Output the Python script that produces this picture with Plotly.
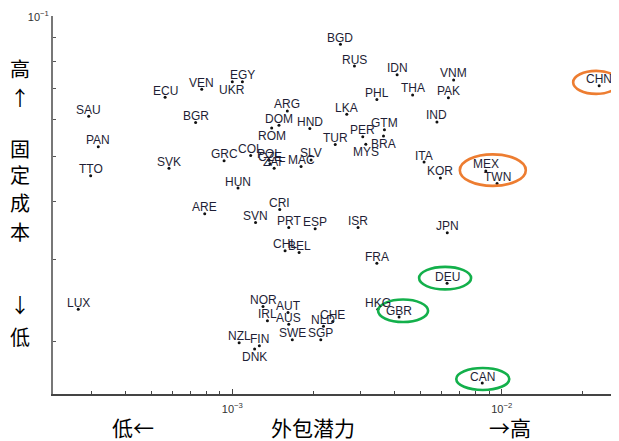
import math
import plotly.graph_objects as go

# ---------------- data ----------------
countries = ["BGD", "RUS", "IDN", "VNM", "EGY", "UKR", "VEN", "ECU", "CHN", "THA",
             "PAK", "PHL", "SAU", "ARG", "LKA", "IND", "BGR", "DOM", "HND", "ROM",
             "GTM", "PER", "BRA", "PAN", "TUR", "MYS", "COL", "GRC", "POL", "CZE",
             "ZAF", "MAC", "SLV", "SVK", "TTO", "ITA", "KOR", "MEX", "TWN", "HUN",
             "CRI", "ARE", "SVN", "PRT", "ESP", "ISR", "JPN", "CHL", "BEL", "FRA",
             "DEU", "NOR", "LUX", "HKG", "AUT", "GBR", "IRL", "CHE", "AUS", "NLD",
             "SWE", "SGP", "NZL", "FIN", "DNK", "CAN"]

# outsourcing potential (x, log scale)
outsourcing = [2.52e-3, 2.84e-3, 4.09e-3, 6.63e-3, 1.09e-3, 1.00e-3, 7.70e-4, 5.63e-4, 2.30e-2, 4.67e-3,
               6.34e-3, 3.44e-3, 2.93e-4, 1.60e-3, 2.66e-3, 5.75e-3, 7.31e-4, 1.49e-3, 1.94e-3, 1.40e-3,
               3.67e-3, 3.05e-3, 3.64e-3, 3.18e-4, 2.41e-3, 3.13e-3, 1.17e-3, 9.32e-4, 1.37e-3, 1.38e-3,
               1.43e-3, 1.80e-3, 1.96e-3, 5.82e-4, 2.98e-4, 5.15e-3, 5.92e-3, 8.73e-3, 9.61e-3, 1.05e-3,
               1.50e-3, 7.90e-4, 1.22e-3, 1.62e-3, 2.03e-3, 2.93e-3, 6.28e-3, 1.57e-3, 1.77e-3, 3.44e-3,
               6.27e-3, 1.30e-3, 2.68e-4, 3.47e-3, 1.61e-3, 4.16e-3, 1.35e-3, 2.36e-3, 1.62e-3, 2.18e-3,
               1.67e-3, 2.13e-3, 1.06e-3, 1.26e-3, 1.21e-3, 8.47e-3]

# fixed cost (y, log scale)
fixed_cost = [0.0872, 0.0783, 0.0750, 0.0731, 0.0725, 0.0725, 0.0698, 0.0671, 0.0710, 0.0679,
              0.0669, 0.0664, 0.0611, 0.0627, 0.0617, 0.0594, 0.0592, 0.0584, 0.0575, 0.0576,
              0.0571, 0.0552, 0.0554, 0.0525, 0.0531, 0.0532, 0.0503, 0.0490, 0.0491, 0.0483,
              0.0472, 0.0476, 0.0492, 0.0472, 0.0455, 0.0487, 0.0450, 0.0466, 0.0438, 0.0428,
              0.0385, 0.0377, 0.0361, 0.0352, 0.0350, 0.0352, 0.0343, 0.0314, 0.0311, 0.0295,
              0.0267, 0.0238, 0.0235, 0.0235, 0.0231, 0.0226, 0.0222, 0.0221, 0.0218, 0.0216,
              0.0202, 0.0202, 0.0199, 0.0196, 0.0193, 0.0163]

# labels that sit below their dot instead of above
labels_below = ["UKR", "ROM", "BRA", "MYS", "DNK"]

# highlighted countries
highlight_orange = ["CHN", "MEX"]
highlight_green = ["DEU", "GBR", "CAN"]

x_major = [1e-3, 1e-2]
x_major_text = ["10<sup>−3</sup>", "10<sup>−2</sup>"]
x_minor = [3e-4, 4e-4, 5e-4, 6e-4, 7e-4, 8e-4, 9e-4,
           2e-3, 3e-3, 4e-3, 5e-3, 6e-3, 7e-3, 8e-3, 9e-3, 2e-2]
y_major = [1e-1]
y_major_text = ["10<sup>−1</sup>"]
y_minor = [2e-2, 3e-2, 4e-2, 5e-2, 6e-2, 7e-2, 8e-2, 9e-2]

# ---------------- layout geometry ----------------
# the page adds an 8px body margin, so the figure is 8px smaller on each side
W, H = 611, 433
ML, MR, MT, MB = 45, 0, 8, 47
X_RANGE = [-3.6656, -1.5646]
Y_RANGE = [-1.8114, -0.9985]
PX_PER_DEC_X = (W - ML - MR) / (X_RANGE[1] - X_RANGE[0])
PX_PER_DEC_Y = (H - MT - MB) / (Y_RANGE[1] - Y_RANGE[0])

LABEL_FONT = dict(family="Liberation Sans, Arial, sans-serif", size=12, color="#1e1e35")

fig = go.Figure()
fig.add_trace(go.Scatter(
    x=outsourcing, y=fixed_cost, mode="markers",
    marker=dict(size=3, color="#111111"),
    hoverinfo="skip", showlegend=False,
))

annotations = []
for c, xv, yv in zip(countries, outsourcing, fixed_cost):
    below = c in labels_below
    annotations.append(dict(
        text=c, x=math.log10(xv), y=math.log10(yv), xref="x", yref="y",
        showarrow=False, xanchor="center",
        yanchor="top" if below else "bottom",
        yshift=1 if below else -2.5,
        font=LABEL_FONT,
    ))

# highlight ellipses: pixel offsets around the highlighted point
ellipse_specs = {
    "CHN": (-26, 20, -8, 15),
    "MEX": (-26, 40, -15, 16.5),
    "DEU": (-28, 24, -6, 16.5),
    "GBR": (-21, 29, -5, 17.5),
    "CAN": (-26, 27, -7, 15),
}
shapes = []
for c, (dx0, dx1, dy0, dy1) in ellipse_specs.items():
    i = countries.index(c)
    color = "#ED7D31" if c in highlight_orange else "#13B04B"
    xv, yv = outsourcing[i], fixed_cost[i]
    shapes.append(dict(
        type="circle", xref="x", yref="y",
        x0=xv * 10 ** (dx0 / PX_PER_DEC_X), x1=xv * 10 ** (dx1 / PX_PER_DEC_X),
        y0=yv * 10 ** (dy0 / PX_PER_DEC_Y), y1=yv * 10 ** (dy1 / PX_PER_DEC_Y),
        line=dict(color=color, width=2.6),
    ))

cjk = "Noto Sans CJK SC"
ylabel_chars = [("高", 0.861), ("↑", 0.784), ("固", 0.649), ("定", 0.580),
                ("成", 0.506), ("本", 0.429), ("↓", 0.236), ("低", 0.151)]
for ch, yy in ylabel_chars:
    annotations.append(dict(text=ch, xref="paper", yref="paper", x=-0.0583, y=yy,
                            showarrow=False, xanchor="center", yanchor="middle",
                            font=dict(family=cjk, size=20, color="#000000")))
for txt, xx in [("低←", 0.1422), ("外包潜力", 0.4602), ("→高", 0.8074)]:
    annotations.append(dict(text=txt, xref="paper", yref="paper", x=xx, y=-0.0874,
                            showarrow=False, xanchor="center", yanchor="middle",
                            font=dict(family=cjk, size=21, color="#000000")))

fig.update_layout(
    width=W, height=H,
    margin=dict(l=ML, r=MR, t=MT, b=MB, pad=0),
    paper_bgcolor="white", plot_bgcolor="white",
    shapes=shapes, annotations=annotations,
    xaxis=dict(type="log", range=X_RANGE,
               tickvals=x_major, ticktext=x_major_text,
               ticks="inside", ticklen=5, tickwidth=1, tickcolor="#444444",
               minor=dict(tickvals=x_minor, ticks="inside", ticklen=3, tickcolor="#444444", showgrid=False),
               showline=True, linecolor="#444444", linewidth=1.5,
               showgrid=False, zeroline=False, ticklabelstandoff=4,
               tickfont=dict(family="Liberation Sans, Arial, sans-serif", size=11, color="#333333")),
    yaxis=dict(type="log", range=Y_RANGE,
               tickvals=y_major, ticktext=y_major_text,
               ticks="inside", ticklen=6, tickwidth=1, tickcolor="#555555",
               minor=dict(tickvals=y_minor, ticks="inside", ticklen=3, tickcolor="#555555", showgrid=False),
               showline=True, linecolor="#777777", linewidth=2,
               showgrid=False, zeroline=False,
               tickfont=dict(family="Liberation Sans, Arial, sans-serif", size=11, color="#333333")),
)

fig.write_html("out.html")
